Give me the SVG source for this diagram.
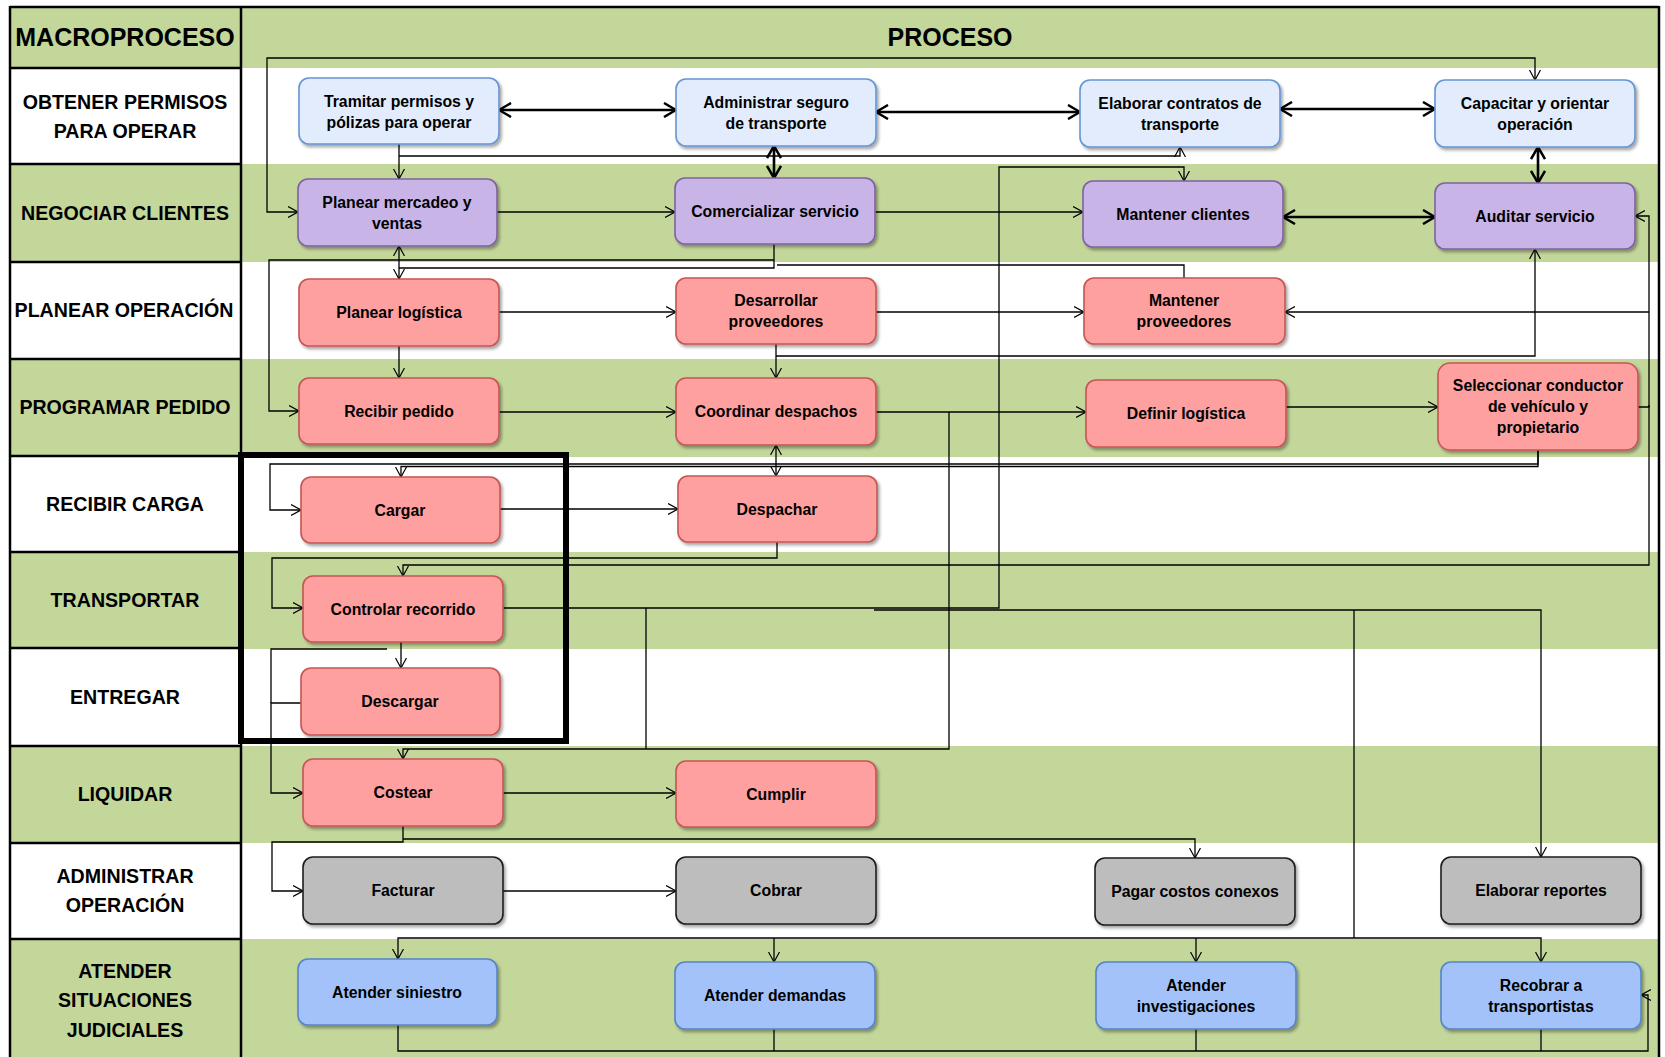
<svg xmlns="http://www.w3.org/2000/svg" width="1665" height="1057" viewBox="0 0 1665 1057">
<style>
.g{fill:#C4D79B}
.w{fill:#FFFFFF}
.div{stroke:#000;stroke-width:2.5}
.lab{font-family:"Liberation Sans",Arial,sans-serif;font-weight:bold;font-size:19.6px;text-anchor:middle;fill:#000}
.hd{font-family:"Liberation Sans",Arial,sans-serif;font-weight:bold;font-size:25px;text-anchor:middle;fill:#000}
.n{font-family:"Liberation Sans",Arial,sans-serif;font-weight:bold;font-size:15.8px;text-anchor:middle;fill:#000}
.box{stroke-width:1.6;filter:url(#sh)}
.obt{fill:#E2ECFC;stroke:#6595D5}
.neg{fill:#C9B4E7;stroke:#7E63A0}
.red{fill:#FEA0A0;stroke:#C65552}
.gry{fill:#BDBDBD;stroke:#1E1E1E}
.blu{fill:#A4C2FA;stroke:#5585C8}
.c{fill:none;stroke:#000;stroke-width:1.3}
.ce{marker-end:url(#ah)}
.cb{marker-start:url(#ah);marker-end:url(#ah)}
.t{fill:none;stroke:#000;stroke-width:2.6;marker-start:url(#ahT);marker-end:url(#ahT)}
</style>
<defs>
<filter id="sh" x="-10%" y="-10%" width="125%" height="135%">
<feDropShadow dx="2" dy="2.5" stdDeviation="1.6" flood-color="#000" flood-opacity="0.35"/>
</filter>
<marker id="ah" viewBox="0 0 10 12" refX="10" refY="6" markerWidth="10" markerHeight="12" markerUnits="userSpaceOnUse" orient="auto-start-reverse">
<path d="M0,0.5 L10,6 L0,11.5" fill="none" stroke="#000" stroke-width="1.2"/>
</marker>
<marker id="ahT" viewBox="0 0 14 16" refX="13" refY="8" markerWidth="14" markerHeight="16" markerUnits="userSpaceOnUse" orient="auto-start-reverse">
<path d="M1,1 L13,8 L1,15" fill="none" stroke="#000" stroke-width="2.5"/>
</marker>
</defs>

<g id="background">
<rect x="0" y="0" width="1665" height="1057" fill="#FFFFFF"/>
<rect class="g" x="10" y="7" width="1649" height="61"/>
<rect class="g" x="10" y="164" width="1649" height="98"/>
<rect class="g" x="10" y="359" width="1649" height="98"/>
<rect class="g" x="10" y="552" width="1649" height="97"/>
<rect class="g" x="10" y="746" width="1649" height="97"/>
<rect class="g" x="10" y="939" width="1649" height="118"/>
<line class="div" x1="10" y1="7" x2="1659" y2="7"/>
<line class="div" x1="10" y1="6" x2="10" y2="1057"/>
<line class="div" x1="1659" y1="6" x2="1659" y2="1057"/>
<line class="div" x1="241" y1="6" x2="241" y2="1057"/>
<line class="div" x1="10" y1="68" x2="241" y2="68"/>
<line class="div" x1="10" y1="164" x2="241" y2="164"/>
<line class="div" x1="10" y1="262" x2="241" y2="262"/>
<line class="div" x1="10" y1="359" x2="241" y2="359"/>
<line class="div" x1="10" y1="456" x2="241" y2="456"/>
<line class="div" x1="10" y1="552" x2="241" y2="552"/>
<line class="div" x1="10" y1="648" x2="241" y2="648"/>
<line class="div" x1="10" y1="746" x2="241" y2="746"/>
<line class="div" x1="10" y1="843" x2="241" y2="843"/>
<line class="div" x1="10" y1="939" x2="241" y2="939"/>
</g>

<g id="headers">
<text class="hd" x="125" y="46">MACROPROCESO</text>
<text class="hd" x="950" y="46">PROCESO</text>
<text class="lab" x="125" y="109">OBTENER PERMISOS</text>
<text class="lab" x="125" y="138">PARA OPERAR</text>
<text class="lab" x="125" y="220">NEGOCIAR CLIENTES</text>
<text class="lab" x="124" y="317">PLANEAR OPERACIÓN</text>
<text class="lab" x="125" y="414">PROGRAMAR PEDIDO</text>
<text class="lab" x="125" y="511">RECIBIR CARGA</text>
<text class="lab" x="125" y="607">TRANSPORTAR</text>
<text class="lab" x="125" y="704">ENTREGAR</text>
<text class="lab" x="125" y="801">LIQUIDAR</text>
<text class="lab" x="125" y="883">ADMINISTRAR</text>
<text class="lab" x="125" y="912">OPERACIÓN</text>
<text class="lab" x="125" y="978">ATENDER</text>
<text class="lab" x="125" y="1007">SITUACIONES</text>
<text class="lab" x="125" y="1037">JUDICIALES</text>
</g>

<g id="connectors">
<path class="t" d="M499,110 H676"/>
<path class="t" d="M876,112 H1080"/>
<path class="t" d="M1280,109 H1435"/>
<path class="t" d="M774,146 V178"/>
<path class="t" d="M1538,147 V183"/>
<path class="t" d="M1283,217 H1435"/>
<path class="c cb" d="M298,212 H267 V58 H1535 V80"/>
<path class="c ce" d="M399,144 V179"/>
<path class="c ce" d="M399,156 H1180 V147"/>
<path class="c ce" d="M503,608 H999 V167 H1184 V181"/>
<path class="c ce" d="M497,212 H675"/>
<path class="c ce" d="M875,212 H1083"/>
<path class="c cb" d="M399,246 V279"/>
<path class="c" d="M774,244 V268 H399"/>
<path class="c ce" d="M774,260 H269 V411 H299"/>
<path class="c" d="M777,265 H1184 V278"/>
<path class="c ce" d="M499,312 H676"/>
<path class="c ce" d="M876,312 H1084"/>
<path class="c ce" d="M399,346 V378"/>
<path class="c ce" d="M776,344 V378"/>
<path class="c ce" d="M776,356 H1535 V249"/>
<path class="c ce" d="M1638,407 H1649 V216 H1635"/>
<path class="c ce" d="M1649,312 H1285"/>
<path class="c ce" d="M1649,405 V565 H403 V576"/>
<path class="c ce" d="M499,412 H676"/>
<path class="c ce" d="M876,412 H1086"/>
<path class="c ce" d="M1286,407 H1438"/>
<path class="c ce" d="M949,412 V749 H403 V759"/>
<path class="c cb" d="M776,445 V476"/>
<path class="c ce" d="M1538,450 V464 H270 V510 H301"/>
<path class="c ce" d="M1538,450 V466.5 H401 V477"/>
<path class="c ce" d="M500,509 H678"/>
<path class="c ce" d="M777,542 V558 H272 V608 H303"/>
<path class="c ce" d="M401,642 V668"/>
<path class="c" d="M387,649 H271 V703"/>
<path class="c ce" d="M301,703 H271 V793 H303"/>
<path class="c" d="M646,608 V749"/>
<path class="c ce" d="M874,610 H1541 V857"/>
<path class="c" d="M1354,610 V938"/>
<path class="c ce" d="M1354,938 H398 V959"/>
<path class="c ce" d="M774,938 V962"/>
<path class="c ce" d="M1196,938 V962"/>
<path class="c ce" d="M1354,938 H1541 V962"/>
<path class="c ce" d="M503,793 H676"/>
<path class="c ce" d="M403,826 V842 H272 V891 H303"/>
<path class="c ce" d="M403,839 H1195 V858"/>
<path class="c ce" d="M503,891 H676"/>
<path class="c ce" d="M398,1025 V1051 H1648 V995 H1641"/>
<path class="c" d="M774,1029 V1051"/>
<path class="c" d="M1196,1029 V1051"/>
<path class="c" d="M1541,1029 V1051"/>
</g>

<g id="n-tramitar"><rect class="box obt" x="299" y="78" width="200" height="66" rx="10"/><text class="n" x="399" y="107">Tramitar permisos y</text><text class="n" x="399" y="128">pólizas para operar</text></g>
<g id="n-administrar"><rect class="box obt" x="676" y="79" width="200" height="67" rx="10"/><text class="n" x="776" y="108">Administrar seguro</text><text class="n" x="776" y="129">de transporte</text></g>
<g id="n-elaborar-contratos"><rect class="box obt" x="1080" y="80" width="200" height="67" rx="10"/><text class="n" x="1180" y="109">Elaborar contratos de</text><text class="n" x="1180" y="130">transporte</text></g>
<g id="n-capacitar"><rect class="box obt" x="1435" y="80" width="200" height="67" rx="10"/><text class="n" x="1535" y="109">Capacitar y orientar</text><text class="n" x="1535" y="130">operación</text></g>

<g id="n-planear-mercadeo"><rect class="box neg" x="298" y="179" width="199" height="67" rx="10"/><text class="n" x="397" y="208">Planear mercadeo y</text><text class="n" x="397" y="229">ventas</text></g>
<g id="n-comercializar"><rect class="box neg" x="675" y="178" width="200" height="66" rx="10"/><text class="n" x="775" y="216.5">Comercializar servicio</text></g>
<g id="n-mantener-clientes"><rect class="box neg" x="1083" y="181" width="200" height="66" rx="10"/><text class="n" x="1183" y="219.5">Mantener clientes</text></g>
<g id="n-auditar"><rect class="box neg" x="1435" y="183" width="200" height="66" rx="10"/><text class="n" x="1535" y="221.5">Auditar servicio</text></g>

<g id="n-planear-logistica"><rect class="box red" x="299" y="279" width="200" height="67" rx="10"/><text class="n" x="399" y="318">Planear logística</text></g>
<g id="n-desarrollar"><rect class="box red" x="676" y="278" width="200" height="66" rx="10"/><text class="n" x="776" y="306">Desarrollar</text><text class="n" x="776" y="327">proveedores</text></g>
<g id="n-mantener-proveedores"><rect class="box red" x="1084" y="278" width="201" height="66" rx="10"/><text class="n" x="1184" y="306">Mantener</text><text class="n" x="1184" y="327">proveedores</text></g>

<g id="n-recibir-pedido"><rect class="box red" x="299" y="378" width="200" height="66" rx="10"/><text class="n" x="399" y="416.5">Recibir pedido</text></g>
<g id="n-coordinar"><rect class="box red" x="676" y="378" width="200" height="67" rx="10"/><text class="n" x="776" y="417">Coordinar despachos</text></g>
<g id="n-definir"><rect class="box red" x="1086" y="380" width="200" height="67" rx="10"/><text class="n" x="1186" y="419">Definir logística</text></g>
<g id="n-seleccionar"><rect class="box red" x="1438" y="363" width="200" height="87" rx="12"/><text class="n" x="1538" y="391">Seleccionar conductor</text><text class="n" x="1538" y="412">de vehículo y</text><text class="n" x="1538" y="433">propietario</text></g>

<g id="n-cargar"><rect class="box red" x="301" y="477" width="199" height="66" rx="10"/><text class="n" x="400" y="515.5">Cargar</text></g>
<g id="n-despachar"><rect class="box red" x="678" y="476" width="199" height="66" rx="10"/><text class="n" x="777" y="514.5">Despachar</text></g>
<g id="n-controlar"><rect class="box red" x="303" y="576" width="200" height="66" rx="10"/><text class="n" x="403" y="614.5">Controlar recorrido</text></g>
<g id="n-descargar"><rect class="box red" x="301" y="668" width="199" height="67" rx="10"/><text class="n" x="400" y="707">Descargar</text></g>
<g id="n-costear"><rect class="box red" x="303" y="759" width="200" height="67" rx="10"/><text class="n" x="403" y="798">Costear</text></g>
<g id="n-cumplir"><rect class="box red" x="676" y="761" width="200" height="66" rx="10"/><text class="n" x="776" y="799.5">Cumplir</text></g>

<g id="n-facturar"><rect class="box gry" x="303" y="857" width="200" height="67" rx="10"/><text class="n" x="403" y="896">Facturar</text></g>
<g id="n-cobrar"><rect class="box gry" x="676" y="857" width="200" height="67" rx="10"/><text class="n" x="776" y="896">Cobrar</text></g>
<g id="n-pagar"><rect class="box gry" x="1095" y="858" width="200" height="67" rx="10"/><text class="n" x="1195" y="897">Pagar costos conexos</text></g>
<g id="n-reportes"><rect class="box gry" x="1441" y="857" width="200" height="67" rx="10"/><text class="n" x="1541" y="896">Elaborar reportes</text></g>

<g id="n-siniestro"><rect class="box blu" x="298" y="959" width="199" height="66" rx="10"/><text class="n" x="397" y="997.5">Atender siniestro</text></g>
<g id="n-demandas"><rect class="box blu" x="675" y="962" width="200" height="67" rx="10"/><text class="n" x="775" y="1001">Atender demandas</text></g>
<g id="n-investigaciones"><rect class="box blu" x="1096" y="962" width="200" height="67" rx="10"/><text class="n" x="1196" y="991">Atender</text><text class="n" x="1196" y="1012">investigaciones</text></g>
<g id="n-recobrar"><rect class="box blu" x="1441" y="962" width="200" height="67" rx="10"/><text class="n" x="1541" y="991">Recobrar a</text><text class="n" x="1541" y="1012">transportistas</text></g>

<g id="highlight">
<rect x="241" y="455" width="325" height="286" fill="none" stroke="#000" stroke-width="6"/>
</g>
</svg>
